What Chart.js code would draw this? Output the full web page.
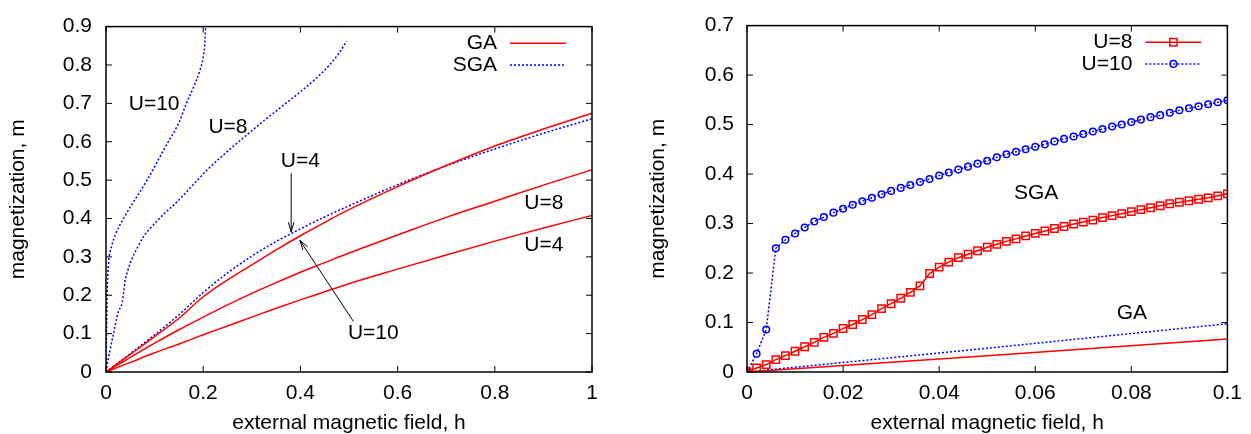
<!DOCTYPE html>
<html>
<head>
<meta charset="utf-8">
<script src="https://cdn.jsdelivr.net/npm/chart.js@4.4.1/dist/chart.umd.min.js"></script>
<style>
  html, body { margin: 0; padding: 0; background: #fff; }
  #wrap { position: relative; width: 1251px; height: 434px; }
  #chartWide { position: absolute; left: 0; top: 0; }
  #chartSmall { position: absolute; left: 625px; top: 0; }
</style>
</head>
<body>
<div id="wrap">
  <canvas id="chartWide" width="625" height="434"></canvas>
  <canvas id="chartSmall" width="626" height="434"></canvas>
</div>
<script>
// ---- left panel: m(h) over the full field range, GA vs SGA ----
const hGA = [0, 0.05, 0.1, 0.15, 0.2, 0.25, 0.3, 0.35, 0.4, 0.45, 0.5, 0.6, 0.7, 0.8, 0.9, 1.0];
const mGA_U4  = [0, 0.025, 0.05, 0.073, 0.097, 0.12, 0.143, 0.166, 0.188, 0.209, 0.23, 0.268, 0.305, 0.341, 0.375, 0.408];
const mGA_U8  = [0, 0.038, 0.075, 0.11, 0.143, 0.175, 0.205, 0.233, 0.26, 0.285, 0.31, 0.357, 0.403, 0.445, 0.487, 0.527];
const mGA_U10 = [0, 0.046, 0.092, 0.14, 0.196, 0.24, 0.279, 0.318, 0.355, 0.39, 0.423, 0.483, 0.538, 0.589, 0.633, 0.674];
const mSGA_U4 = [0, 0.048, 0.097, 0.149, 0.207, 0.258, 0.302, 0.34, 0.373, 0.404, 0.433, 0.488, 0.537, 0.581, 0.622, 0.66];

const hSGA_U8 = [0, 0.004, 0.008, 0.015, 0.025, 0.033, 0.036, 0.039, 0.045, 0.053, 0.065, 0.077, 0.09, 0.104,
                 0.12, 0.145, 0.175, 0.207, 0.25, 0.29, 0.33, 0.365, 0.4, 0.433, 0.46, 0.48, 0.495];
const mSGA_U8 = [0, 0.03, 0.055, 0.098, 0.155, 0.18, 0.205, 0.235, 0.265, 0.294, 0.325, 0.352, 0.373, 0.392,
                 0.413, 0.442, 0.482, 0.525, 0.575, 0.618, 0.66, 0.695, 0.73, 0.766, 0.8, 0.832, 0.862];

const hSGA_U10 = [0, 0.001, 0.002, 0.003, 0.005, 0.012, 0.02, 0.036, 0.05, 0.084, 0.125, 0.15, 0.166, 0.18, 0.193, 0.2, 0.203, 0.205];
const mSGA_U10 = [0, 0.1, 0.18, 0.23, 0.28, 0.33, 0.36, 0.40, 0.43, 0.499, 0.593, 0.65, 0.702, 0.742, 0.785, 0.82, 0.85, 0.9];

// ---- right panel: small-field region, SGA with symbols, GA as plain lines ----
const hFine = [0, 0.002, 0.004, 0.006, 0.008, 0.01, 0.012, 0.014, 0.016, 0.018,
               0.02, 0.022, 0.024, 0.026, 0.028, 0.03, 0.032, 0.034, 0.036, 0.038,
               0.04, 0.042, 0.044, 0.046, 0.048, 0.05, 0.052, 0.054, 0.056, 0.058,
               0.06, 0.062, 0.064, 0.066, 0.068, 0.07, 0.072, 0.074, 0.076, 0.078,
               0.08, 0.082, 0.084, 0.086, 0.088, 0.09, 0.092, 0.094, 0.096, 0.098, 0.1];
const mFine_U8 = [0, 0.008, 0.015, 0.025, 0.033, 0.042, 0.051, 0.06, 0.07, 0.078,
                  0.088, 0.096, 0.106, 0.116, 0.128, 0.138, 0.149, 0.161, 0.174, 0.199,
                  0.212, 0.222, 0.231, 0.238, 0.245, 0.252, 0.258, 0.264, 0.269, 0.275,
                  0.28, 0.285, 0.29, 0.294, 0.299, 0.303, 0.307, 0.312, 0.316, 0.32,
                  0.324, 0.328, 0.332, 0.336, 0.34, 0.343, 0.346, 0.349, 0.352, 0.356, 0.36];
const mFine_U10 = [0, 0.037, 0.086, 0.25, 0.267, 0.28, 0.292, 0.304, 0.313, 0.322,
                   0.33, 0.338, 0.345, 0.352, 0.359, 0.366, 0.372, 0.378, 0.384, 0.39,
                   0.397, 0.403, 0.409, 0.415, 0.421, 0.427, 0.434, 0.44, 0.445, 0.45,
                   0.455, 0.46, 0.466, 0.471, 0.476, 0.481, 0.486, 0.491, 0.496, 0.5,
                   0.505, 0.51, 0.515, 0.519, 0.524, 0.529, 0.533, 0.537, 0.541, 0.545, 0.549];
const hLine = [0, 0.05, 0.1];
const mLineGA_U8  = [0, 0.033, 0.0665];
const mLineGA_U10 = [0, 0.048, 0.0975];

const xTitle = 'external magnetic field, h';
const yTitle = 'magnetization, m';

const RED = '#ff0000';
const BLUE = '#0000ff';
const FAMILY = '"Liberation Sans", Arial, Helvetica, sans-serif';
const FSIZE = 21;

function pts(hs, ms) {
  return hs.map((h, i) => ({ x: h, y: ms[i] }));
}

// smooth curves for the left panel, straight segments otherwise
function solid(data, smooth) {
  return { data, borderColor: RED, borderWidth: 1.5, pointRadius: 0, fill: false,
           cubicInterpolationMode: smooth ? 'monotone' : 'default', tension: 0 };
}
function dotted(data, smooth) {
  return { data, borderColor: BLUE, borderWidth: 1.5, borderDash: [2, 2], pointRadius: 0, fill: false,
           cubicInterpolationMode: smooth ? 'monotone' : 'default', tension: 0 };
}

// numbers like gnuplot prints them: 0, 0.2, 1, 0.02, 0.1
function fmt(v) {
  return String(Number(v.toFixed(4)));
}

// box, inward mirrored ticks, text labels, arrows and the key
const gnuFrame = {
  id: 'gnuFrame',
  afterDatasetsDraw(chart, args, opts) {
    const { ctx, chartArea: a } = chart;
    const x = chart.scales.x, y = chart.scales.y;
    const len = 6;
    ctx.save();
    ctx.strokeStyle = '#000';
    ctx.setLineDash([]);
    ctx.lineWidth = 1;
    ctx.beginPath();
    x.ticks.forEach(t => {
      const px = x.getPixelForValue(t.value);
      ctx.moveTo(px, a.bottom); ctx.lineTo(px, a.bottom - len);
      ctx.moveTo(px, a.top); ctx.lineTo(px, a.top + len);
    });
    y.ticks.forEach(t => {
      const py = y.getPixelForValue(t.value);
      ctx.moveTo(a.left, py); ctx.lineTo(a.left + len, py);
      ctx.moveTo(a.right, py); ctx.lineTo(a.right - len, py);
    });
    ctx.stroke();
    ctx.lineWidth = 1.5;
    ctx.strokeRect(a.left, a.top, a.right - a.left, a.bottom - a.top);

    ctx.font = FSIZE + 'px ' + FAMILY;
    ctx.fillStyle = '#000';
    ctx.textAlign = 'center';
    ctx.textBaseline = 'middle';
    (opts.labels || []).forEach(l => {
      ctx.fillText(l.text, x.getPixelForValue(l.h), y.getPixelForValue(l.m));
    });

    ctx.lineWidth = 1;
    (opts.arrows || []).forEach(ar => {
      const x0 = x.getPixelForValue(ar.from[0]), y0 = y.getPixelForValue(ar.from[1]);
      const x1 = x.getPixelForValue(ar.to[0]), y1 = y.getPixelForValue(ar.to[1]);
      const ang = Math.atan2(y1 - y0, x1 - x0);
      const head = 10, spread = 0.28;
      ctx.beginPath();
      ctx.moveTo(x0, y0); ctx.lineTo(x1, y1);
      ctx.moveTo(x1 - head * Math.cos(ang - spread), y1 - head * Math.sin(ang - spread));
      ctx.lineTo(x1, y1);
      ctx.lineTo(x1 - head * Math.cos(ang + spread), y1 - head * Math.sin(ang + spread));
      ctx.stroke();
    });

    // key in the top right corner
    (opts.key || []).forEach((k, row) => {
      const ds = chart.data.datasets[k.dataset];
      const cy = a.top + 16.7 + row * 21.6;
      ctx.textAlign = 'right';
      ctx.fillStyle = '#000';
      ctx.fillText(k.text, a.right - 95, cy);
      ctx.strokeStyle = ds.borderColor;
      ctx.lineWidth = ds.borderWidth;
      ctx.setLineDash(ds.borderDash || []);
      ctx.beginPath();
      ctx.moveTo(a.right - 82, cy); ctx.lineTo(a.right - 26, cy);
      ctx.stroke();
      ctx.setLineDash([]);
      if (ds.pointRadius > 0) {
        ctx.fillStyle = 'rgba(0,0,0,0)';
        ctx.lineWidth = ds.pointBorderWidth;
        Chart.helpers.drawPoint(ctx, {
          pointStyle: ds.pointStyle, radius: ds.pointRadius,
          borderWidth: ds.pointBorderWidth, rotation: 0
        }, a.right - 54, cy);
      }
    });
    ctx.restore();
  }
};

function makeOptions(o) {
  const font = { family: FAMILY, size: FSIZE };
  return {
    responsive: false,
    animation: false,
    events: [],
    layout: { padding: { top: 20, right: o.padRight, left: 0, bottom: 0 } },
    plugins: {
      legend: { display: false },
      tooltip: { enabled: false },
      gnuFrame: o.frame
    },
    scales: {
      x: {
        type: 'linear', min: 0, max: o.xMax,
        grid: { display: false, drawTicks: false },
        border: { display: false },
        ticks: { stepSize: o.xStep, padding: 9, color: '#000', font, callback: fmt, maxRotation: 0, autoSkip: false },
        title: { display: true, text: xTitle, color: '#000', font: { ...font, lineHeight: 1 }, padding: 0 },
        afterFit: s => { s.height = 62; }
      },
      y: {
        type: 'linear', min: 0, max: o.yMax,
        grid: { display: false, drawTicks: false },
        border: { display: false },
        ticks: { stepSize: 0.1, padding: o.yTickPad, color: '#000', font, callback: fmt, autoSkip: false },
        title: { display: true, text: yTitle, color: '#000', font: { ...font, lineHeight: 1 }, padding: { top: o.yTitlePad, bottom: 0 } },
        afterFit: s => { s.width = o.yWidth; }
      }
    }
  };
}

new Chart(document.getElementById('chartWide'), {
  type: 'line',
  data: {
    datasets: [
      solid(pts(hGA, mGA_U10), true),
      solid(pts(hGA, mGA_U8), true),
      solid(pts(hGA, mGA_U4), true),
      dotted(pts(hGA, mSGA_U4), true),
      dotted(pts(hSGA_U8, mSGA_U8), true),
      dotted(pts(hSGA_U10, mSGA_U10), true)
    ]
  },
  options: makeOptions({
    padRight: 33, yWidth: 106, yTickPad: 14, yTitlePad: 8,
    xMax: 1, xStep: 0.2, yMax: 0.9,
    frame: {
      labels: [
        { text: 'U=10', h: 0.099, m: 0.698 },
        { text: 'U=8', h: 0.251, m: 0.638 },
        { text: 'U=4', h: 0.40, m: 0.55 },
        { text: 'U=10', h: 0.55, m: 0.101 },
        { text: 'U=8', h: 0.901, m: 0.44 },
        { text: 'U=4', h: 0.901, m: 0.331 }
      ],
      arrows: [
        { from: [0.381, 0.518], to: [0.381, 0.365] },
        { from: [0.509, 0.132], to: [0.399, 0.343] }
      ],
      key: [
        { text: 'GA', dataset: 0 },
        { text: 'SGA', dataset: 3 }
      ]
    }
  }),
  plugins: [gnuFrame]
});

const u8 = pts(hFine, mFine_U8);
const u10 = pts(hFine, mFine_U10);

new Chart(document.getElementById('chartSmall'), {
  type: 'line',
  data: {
    datasets: [
      { data: u8, borderColor: RED, borderWidth: 1.5, tension: 0, fill: false,
        pointStyle: 'rect', pointRadius: 5.2, pointBorderWidth: 1.5,
        pointBackgroundColor: 'rgba(0,0,0,0)', pointBorderColor: RED },
      { data: u10, borderColor: BLUE, borderWidth: 1.5, borderDash: [2, 2], tension: 0, fill: false,
        pointStyle: 'circle', pointRadius: 3.3, pointBorderWidth: 1.5,
        pointBackgroundColor: 'rgba(0,0,0,0)', pointBorderColor: BLUE },
      solid(pts(hLine, mLineGA_U8), false),
      dotted(pts(hLine, mLineGA_U10), false)
    ]
  },
  options: makeOptions({
    padRight: 17, yWidth: 122, yTickPad: 13, yTitlePad: 23,
    xMax: 0.1, xStep: 0.02, yMax: 0.7,
    frame: {
      labels: [
        { text: 'SGA', h: 0.0602, m: 0.362 },
        { text: 'GA', h: 0.0801, m: 0.119 }
      ],
      key: [
        { text: 'U=8', dataset: 0 },
        { text: 'U=10', dataset: 1 }
      ]
    }
  }),
  plugins: [gnuFrame]
});
</script>
</body>
</html>
